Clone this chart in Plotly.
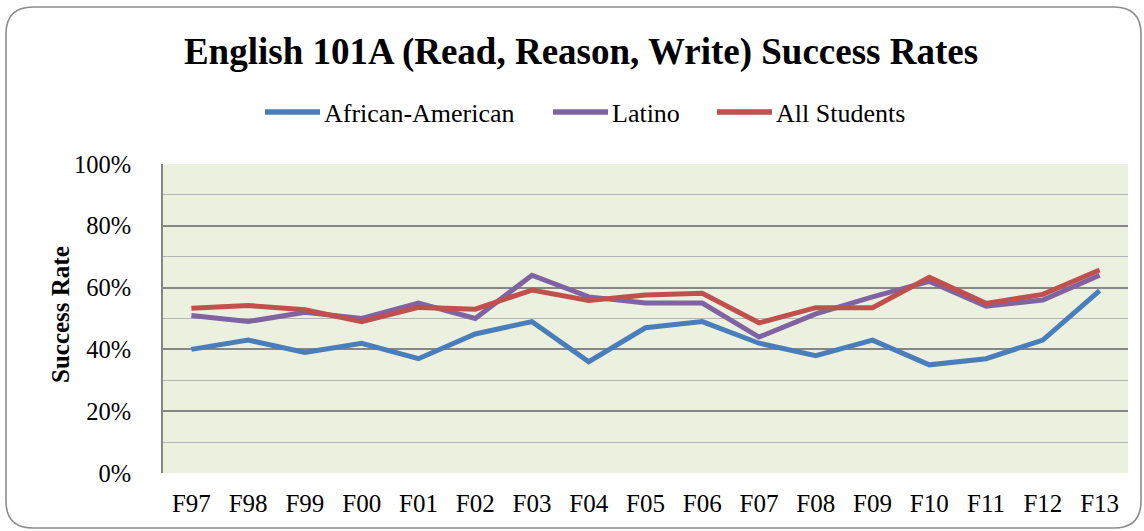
import plotly.graph_objects as go

# Fall terms
terms = ["F97", "F98", "F99", "F00", "F01", "F02", "F03", "F04", "F05",
         "F06", "F07", "F08", "F09", "F10", "F11", "F12", "F13"]

# Success rates (fraction of students)
african_american = [0.40, 0.43, 0.39, 0.42, 0.37, 0.45, 0.49, 0.36, 0.47,
                    0.49, 0.42, 0.38, 0.43, 0.35, 0.37, 0.43, 0.59]
latino = [0.51, 0.49, 0.52, 0.50, 0.55, 0.50, 0.64, 0.57, 0.55,
          0.55, 0.44, 0.515, 0.57, 0.62, 0.54, 0.56, 0.64]
all_students = [0.533, 0.542, 0.528, 0.49, 0.536, 0.53, 0.592, 0.558, 0.576,
                0.582, 0.486, 0.535, 0.535, 0.633, 0.549, 0.578, 0.657]

series_names = ["African-American", "Latino", "All Students"]
series_values = [african_american, latino, all_students]
series_colors = ["#4A7EBB", "#8064A2", "#C0504D"]

SERIF = "Liberation Serif, Times New Roman, serif"

W, H = 1144, 531
ML, MR, MT, MB = 163, 16, 164, 58
PW, PH = W - ML - MR, H - MT - MB


def px(x):
    return (x - ML) / PW


def py(y):
    return (H - MB - y) / PH


fig = go.Figure()
for name, vals, col in zip(series_names, series_values, series_colors):
    fig.add_trace(go.Scatter(
        x=terms, y=vals, name=name, mode="lines",
        line=dict(color=col, width=5), showlegend=False,
    ))

shapes = []
annotations = []

# Legend row drawn as line swatches with labels
legend_x = [265, 553, 717]
legend_y = 112
for x0, name, col in zip(legend_x, series_names, series_colors):
    shapes.append(dict(
        type="line", xref="paper", yref="paper",
        x0=px(x0), x1=px(x0 + 55), y0=py(legend_y), y1=py(legend_y),
        line=dict(color=col, width=5.5),
    ))
    annotations.append(dict(
        text=name, xref="paper", yref="paper",
        x=px(x0 + 57), y=py(legend_y + 1), xanchor="left", yanchor="middle",
        showarrow=False,
        font=dict(family=SERIF, size=26, color="#000000"),
    ))

# Vertical axis title
annotations.append(dict(
    text="<b>Success Rate</b>", xref="paper", yref="paper",
    x=px(60), y=py(315), xanchor="center", yanchor="middle",
    textangle=-90, showarrow=False,
    font=dict(family=SERIF, size=25, color="#000000"),
))

# Rounded outer frame
L, T, R, B, r = 6, 7, 1141, 528, 27
path = (
    f"M {px(L + r)},{py(T)} L {px(R - r)},{py(T)} "
    f"Q {px(R)},{py(T)} {px(R)},{py(T + r)} "
    f"L {px(R)},{py(B - r)} Q {px(R)},{py(B)} {px(R - r)},{py(B)} "
    f"L {px(L + r)},{py(B)} Q {px(L)},{py(B)} {px(L)},{py(B - r)} "
    f"L {px(L)},{py(T + r)} Q {px(L)},{py(T)} {px(L + r)},{py(T)} Z"
)
shapes.append(dict(type="path", xref="paper", yref="paper", path=path,
                   line=dict(color="#8C8C8C", width=1.6), layer="below"))

fig.update_layout(
    width=W, height=H,
    margin=dict(l=ML, r=MR, t=MT, b=MB),
    paper_bgcolor="#FFFFFF",
    plot_bgcolor="#EBF1DE",
    font=dict(family=SERIF, color="#000000"),
    title=dict(
        text="<b>English 101A (Read, Reason, Write) Success Rates</b>",
        xref="container", x=581 / W, xanchor="center",
        yref="container", y=1 - 51 / H, yanchor="middle",
        font=dict(family=SERIF, size=37, color="#000000"),
    ),
    shapes=shapes,
    annotations=annotations,
    xaxis=dict(
        type="category", categoryorder="array", categoryarray=terms,
        range=[-0.5, len(terms) - 0.5],
        showgrid=False, zeroline=False, showline=False,
        ticks="", tickfont=dict(family=SERIF, size=25), ticklabelstandoff=13,
    ),
    yaxis=dict(
        range=[0, 1], dtick=0.2, tickformat=".0%",
        showgrid=True, gridcolor="#868686", gridwidth=2.2,
        zeroline=False, showline=True, linecolor="#868686", linewidth=2,
        ticks="", tickfont=dict(family=SERIF, size=24.5), ticklabelstandoff=25,
        minor=dict(dtick=0.1, showgrid=True, gridcolor="#B4B4B4", gridwidth=1.2),
    ),
)

fig.write_html("out.html")
